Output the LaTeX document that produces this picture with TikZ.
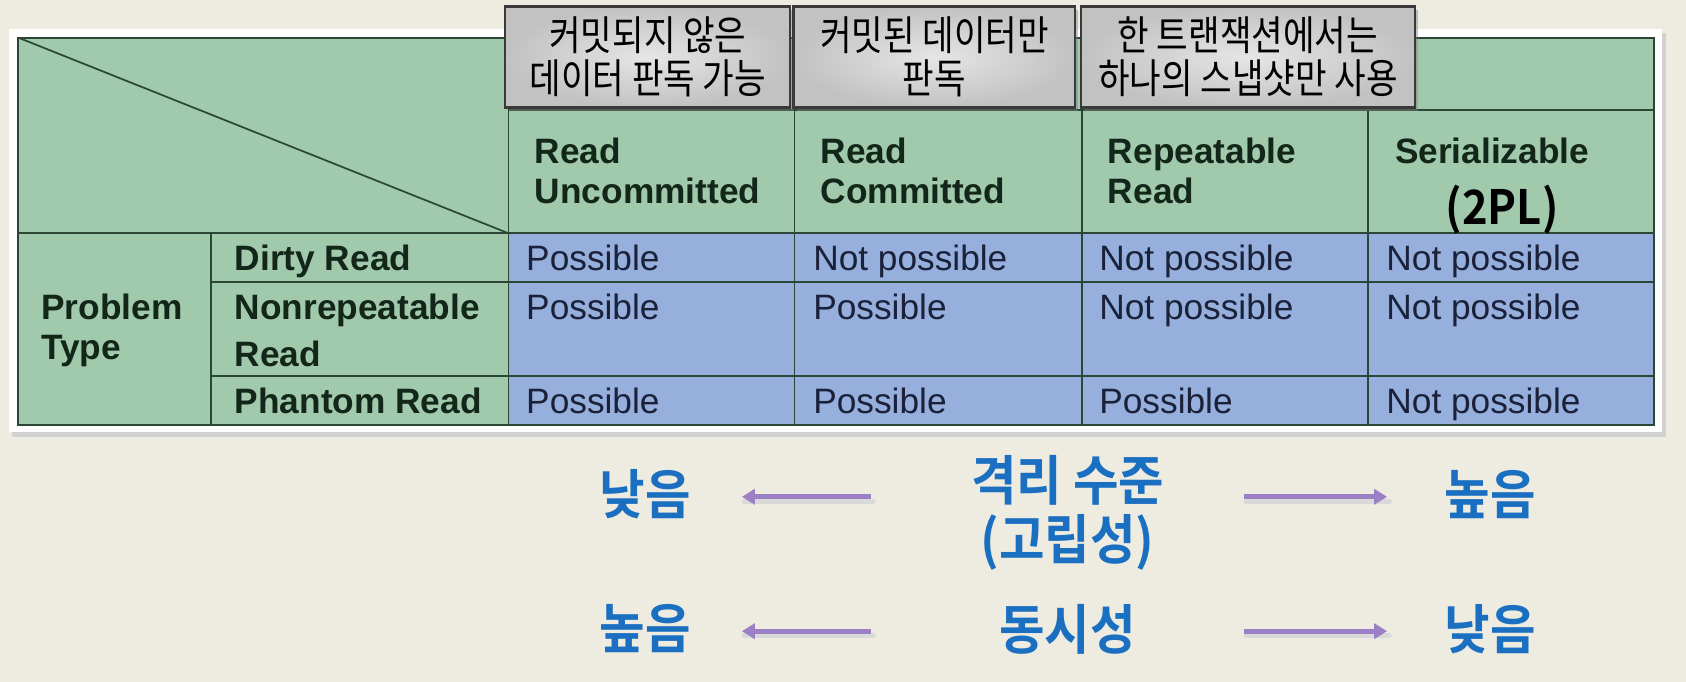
\documentclass[tikz,border=0pt]{standalone}
\usepackage{fontspec}
\setmainfont{Liberation Sans}
\newfontfamily\krfont[FakeStretch=0.84]{Noto Sans CJK KR}
\newfontfamily\krbfont[FakeStretch=0.92]{Noto Sans CJK KR Bold}
\usetikzlibrary{arrows.meta,shadows}
\definecolor{bgc}{HTML}{EEEBE0}
\definecolor{cellg}{HTML}{A1C9AC}
\definecolor{cellb}{HTML}{96AFDD}
\definecolor{gridc}{HTML}{2C4636}
\definecolor{hdrtxt}{HTML}{13261A}
\definecolor{celltxt}{HTML}{1A2139}
\definecolor{kblue}{HTML}{1B6FC0}
\definecolor{apurple}{HTML}{9C80C5}
\definecolor{popborder}{HTML}{3A3A3A}
\tikzset{
  hdr/.style={anchor=base west, inner sep=0pt, text=hdrtxt, font=\bfseries\fontsize{16.4}{20}\selectfont},
  cell/.style={anchor=base west, inner sep=0pt, text=celltxt, font=\fontsize{16.4}{20}\selectfont},
  popup/.style={draw=popborder, line width=1pt, inner color=gray!20, outer color=gray!48,
    minimum height=47pt, align=center, text=black, inner sep=0pt,
    font=\krfont\fontsize{19}{20}\selectfont,
    drop shadow={shadow xshift=1.5pt, shadow yshift=-1.5pt, opacity=0.45}},
  ktext/.style={text=kblue, inner sep=0pt, align=center, font=\krbfont\fontsize{25}{27.5}\selectfont},
  parrow/.style={draw=apurple, line width=2.4pt, -{Triangle[length=6pt,width=7pt]}},
  pshadow/.style={draw=black!15, line width=2.4pt, line cap=round}
}
\begin{document}
\begin{tikzpicture}[x=0.5pt,y=-0.5pt]
\useasboundingbox (0,0) rectangle (1568,634);
\fill[bgc] (0,0) rectangle (1568,634);
% white frame and its shadow
\fill[black!18] (11,31) rectangle (1549,406);
\fill[white] (8,27) rectangle (1546,402);
% cells
\fill[cellg] (17,35) rectangle (1538,395);
\fill[cellb] (473,217) rectangle (1538,395);
\begin{scope}[draw=gridc, line width=0.8pt]
  \draw (17,35) rectangle (1538,395);
  \draw (473,102) -- (1538,102);
  \draw (17,217) -- (1538,217);
  \draw (196,262) -- (1538,262);
  \draw (196,350) -- (1538,350);
  \draw (196,217) -- (196,395);
  \draw (473,35) -- (473,395);
  \foreach \x in {739,1006,1272} \draw (\x,102) -- (\x,395);
  \draw (17,35) -- (473,217);
\end{scope}
% column headers
\node[hdr] (h1a) at (497,152) {Read};
\node[hdr] (h1b) at (497,189) {Uncommitted};
\node[hdr] (h2a) at (763,152) {Read};
\node[hdr] (h2b) at (763,189) {Committed};
\node[hdr] (h3a) at (1030,152) {Repeatable};
\node[hdr] (h3b) at (1030,189) {Read};
\node[hdr] (h4a) at (1297,152) {Serializable};
\node[anchor=base, inner sep=0pt, text=black, font=\krbfont\fontsize{22}{24}\selectfont] (h4b) at (1397,209) {(2PL)};
% row headers
\node[hdr] (pt1) at (38,297) {Problem};
\node[hdr] (pt2) at (38,334) {Type};
\node[hdr] (r1) at (218,252) {Dirty Read};
\node[hdr] (r2a) at (218,297) {Nonrepeatable};
\node[hdr] (r2b) at (218,341) {Read};
\node[hdr] (r3) at (218,385) {Phantom Read};
% cells
\node[cell] (c11) at (489,252) {Possible};
\node[cell] (c12) at (756,252) {Not possible};
\node[cell] (c13) at (1022,252) {Not possible};
\node[cell] (c14) at (1289,252) {Not possible};
\node[cell] (c21) at (489,297) {Possible};
\node[cell] (c22) at (756,297) {Possible};
\node[cell] (c23) at (1022,297) {Not possible};
\node[cell] (c24) at (1289,297) {Not possible};
\node[cell] (c31) at (489,385) {Possible};
\node[cell] (c32) at (756,385) {Possible};
\node[cell] (c33) at (1022,385) {Possible};
\node[cell] (c34) at (1289,385) {Not possible};
% popups
\node[popup, minimum width=132.5pt] (p1) at (602.5,53) {커밋되지 않은\\데이터 판독 가능};
\node[popup, minimum width=131pt] (p2) at (869,53) {커밋된 데이터만\\판독};
\node[popup, minimum width=155.5pt] (p3) at (1160.5,53) {한 트랜잭션에서는\\하나의 스냅샷만 사용};
% bottom labels
\node[ktext] (low1) at (600,460) {낮음};
\node[ktext] (iso) at (993,477) {격리 수준\\(고립성)};
\node[ktext] (high1) at (1386,460) {높음};
\node[ktext] (high2) at (600,585) {높음};
\node[ktext] (conc) at (993,585) {동시성};
\node[ktext] (low2) at (1386,585) {낮음};
% arrows
\coordinate (a1s) at (810,462); \coordinate (a1e) at (690,462);
\coordinate (a2s) at (1157,462); \coordinate (a2e) at (1290,462);
\coordinate (a3s) at (810,587); \coordinate (a3e) at (690,587);
\coordinate (a4s) at (1157,587); \coordinate (a4e) at (1290,587);
\foreach \s/\e in {a1s/a1e,a2s/a2e,a3s/a3e,a4s/a4e}{
  \draw[pshadow, transform canvas={shift={(1pt,-2pt)}}] (\s) -- (\e);
  \draw[parrow] (\s) -- (\e);
}
\end{tikzpicture}
\end{document}
